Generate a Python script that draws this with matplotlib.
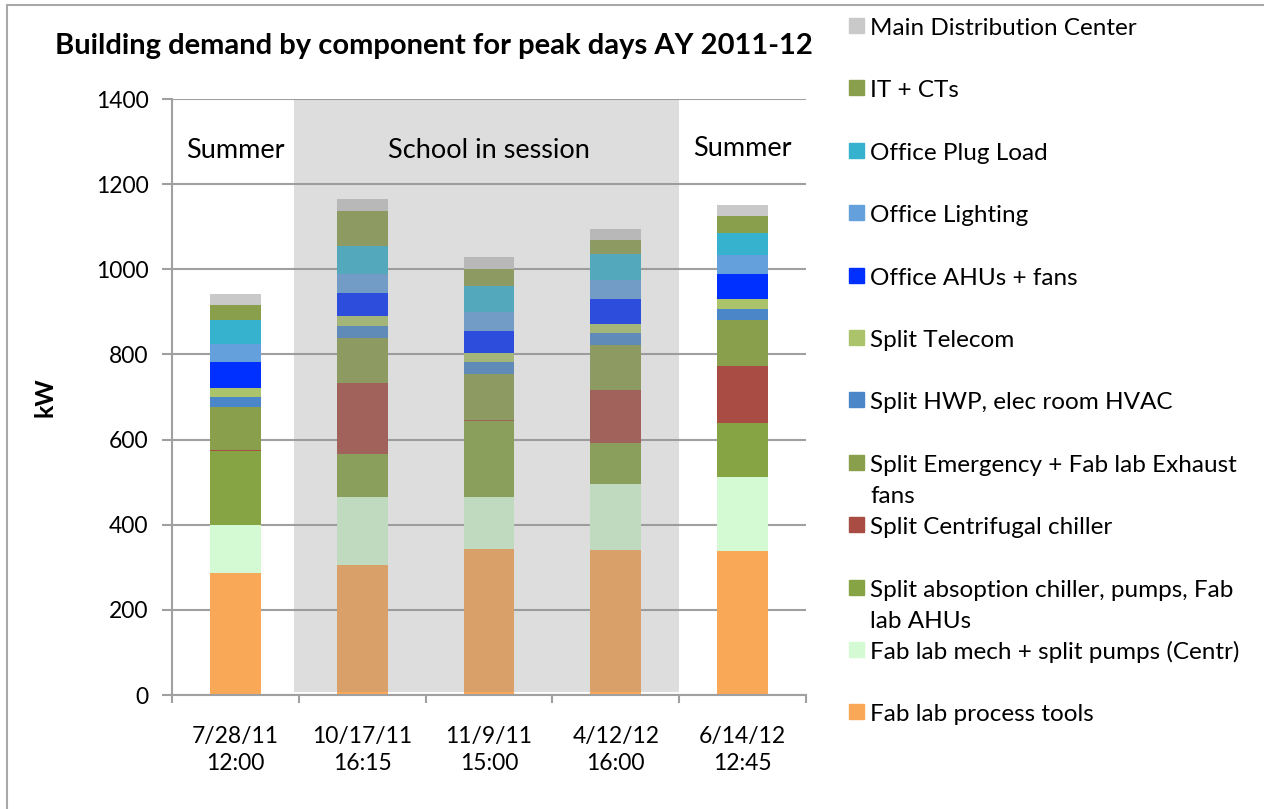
import matplotlib
matplotlib.use("Agg")
import matplotlib.pyplot as plt
import matplotlib.patches as mpatches
import numpy as np

plt.rcParams['font.family'] = ['Lato', 'DejaVu Sans']

# dias de pico (rótulos do eixo x)
datas = ["7/28/11\n12:00", "10/17/11\n16:15", "11/9/11\n15:00", "4/12/12\n16:00", "6/14/12\n12:45"]

# componentes, de baixo para cima (kW)
process_tools = [286, 305, 342, 340, 338]
fab_mech = [113, 160, 123, 155, 174]
absorption = [174, 101, 178, 97, 126]
centrifugal = [2, 166, 2, 125, 134]
emergency = [102, 107, 108, 104, 108]
hwp = [22, 27, 29, 29, 27]
telecom = [22, 24, 22, 22, 24]
office_ahu = [61, 54, 51, 59, 59]
office_light = [43, 44, 45, 45, 43]
office_plug = [57, 66, 61, 61, 53]
it_cts = [33, 84, 40, 31, 39]
main_dist = [26, 28, 28, 27, 27]

series = [process_tools, fab_mech, absorption, centrifugal, emergency, hwp,
          telecom, office_ahu, office_light, office_plug, it_cts, main_dist]
nomes = ["Fab lab process tools",
         "Fab lab mech + split pumps (Centr)",
         "Split absoption chiller, pumps, Fab\nlab AHUs",
         "Split Centrifugal chiller",
         "Split Emergency + Fab lab Exhaust\nfans",
         "Split HWP, elec room HVAC",
         "Split Telecom",
         "Office AHUs + fans",
         "Office Lighting",
         "Office Plug Load",
         "IT + CTs",
         "Main Distribution Center"]
cores = ["#F9A857", "#D4FAD4", "#86A444", "#A84C44", "#8A9F4C", "#4A86C8",
         "#ABC46C", "#0030FF", "#64A0DC", "#36B2CF", "#8A9F4C", "#C9C9C9"]

fig = plt.figure(figsize=(12.64, 8.09), dpi=100)
ax = fig.add_axes([172/1264, 1 - 695/809, (806 - 172)/1264, (695 - 99)/809])

x = np.arange(len(datas))
base = np.zeros(len(datas))
for vals, cor in zip(series, cores):
    ax.bar(x, vals, width=0.40, bottom=base, color=cor, zorder=2)
    base += np.array(vals)

# faixa "School in session" sobreposta (cinza translúcido)
ax.axvspan(0.46, 3.5, ymin=0.005, ymax=1, color="#949494", alpha=0.31, lw=0, zorder=3)

ax.text(0, 1278, "Summer", ha="center", va="center", fontsize=19.5, zorder=5)
ax.text(2, 1278, "School in session", ha="center", va="center", fontsize=19.5, zorder=5)
ax.text(4, 1284, "Summer", ha="center", va="center", fontsize=19.5, zorder=5)

ax.set_xlim(-0.5, 4.5)
ax.set_ylim(0, 1400)
ax.set_yticks(np.arange(0, 1401, 200))
ax.set_xticks(x)
ax.set_xticklabels(datas, fontsize=16.5, linespacing=1.35)
ax.set_xticks(np.arange(-0.5, 4.6, 1), minor=True)
ax.tick_params(axis="x", which="major", length=0, pad=22)
ax.tick_params(axis="x", which="minor", length=6, width=1.5, color="#A0A0A0", direction="out")
ax.tick_params(axis="y", length=7, width=1.5, color="#A0A0A0", pad=10, labelsize=16.5)

ax.set_axisbelow(True)
ax.grid(axis="y", color="#A0A0A0", linewidth=1.5, zorder=0)
for lado in ["top", "right"]:
    ax.spines[lado].set_visible(False)
for lado in ["left", "bottom"]:
    ax.spines[lado].set_color("#A0A0A0")
    ax.spines[lado].set_linewidth(1.5)

fig.text(434/1264, 1 - 46/809, "Building demand by component for peak days AY 2011-12",
         ha="center", va="center", fontsize=21, fontweight="bold")
fig.text(45/1264, 1 - 397/809, "kW", ha="center", va="center", rotation=90,
         fontsize=18, fontweight="bold")

# legenda manual (ordem invertida, espaçamento fixo como no Excel)
for i, (nome, cor) in enumerate(zip(nomes[::-1], cores[::-1])):
    yb = 35 + 62.4 * i
    fig.patches.append(mpatches.Rectangle((849/1264, 1 - (yb - 2)/809), 15/1264, 15/809,
                                          transform=fig.transFigure, color=cor))
    for k, linha in enumerate(nome.split("\n")):
        fig.text(870/1264, 1 - (yb + 31.6 * k)/809, linha, ha="left", va="baseline",
                 fontsize=17.5)

# moldura externa do gráfico
fig.patches.append(mpatches.Rectangle((7/1264, -0.1), 1.2, 1.1 - 5/809, transform=fig.transFigure,
                                      fill=False, edgecolor="#A8A8A8", linewidth=1.5))

fig.savefig("out.png", dpi=100)
plt.close(fig)
